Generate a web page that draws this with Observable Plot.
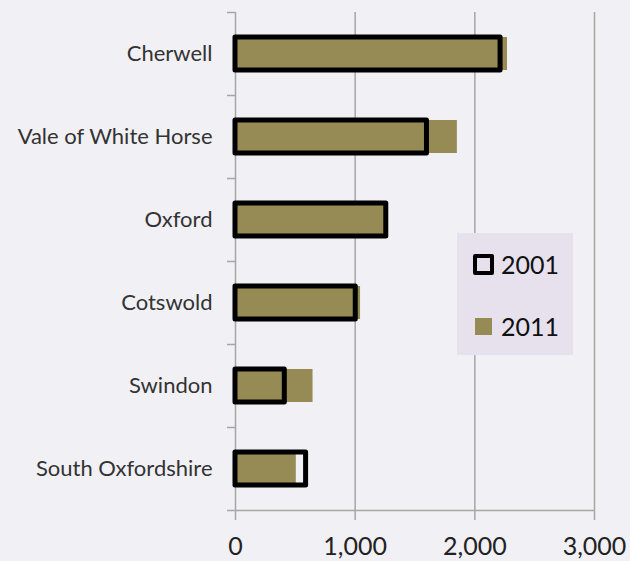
<!DOCTYPE html>
<html>
<head>
<meta charset="utf-8">
<script src="https://cdn.jsdelivr.net/npm/d3@7"></script>
<script src="https://cdn.jsdelivr.net/npm/@observablehq/plot@0.6"></script>
<style>
  html, body { margin: 0; padding: 0; background: #f1f0f5; }
  #wrap { position: relative; width: 630px; height: 561px; }
  #legend {
    position: absolute; left: 457px; top: 233px; width: 116px; height: 122px;
    background: #e6e1ed; font-family: Lato, sans-serif; font-size: 25px; color: #111;
  }
  .item { position: absolute; left: 16px; display: flex; align-items: center; line-height: 30px; }
  .sw { box-sizing: border-box; margin-right: 7px; }
</style>
</head>
<body>
<div id="wrap"></div>
<script>
const categories = ["Cherwell", "Vale of White Horse", "Oxford", "Cotswold", "Swindon", "South Oxfordshire"];
const values2001 = [2215, 1600, 1260, 1005, 412, 590];
const values2011 = [2273, 1854, 1245, 1045, 648, 508];
const xTicks = [0, 1000, 2000, 3000];
const seriesNames = ["2001", "2011"];

const olive = "#968b55";
const grid = "#a6a6a6";
const W = 630, H = 561, mT = 12, mB = 51, mL = 235, mR = 36;
const step = (H - mT - mB) / categories.length;
const barH = 33;
const inset = (step - barH) / 2;

const rows = categories.map((c, i) => ({name: c, v2001: values2001[i], v2011: values2011[i]}));

const chart = Plot.plot({
  width: W, height: H,
  marginTop: mT, marginBottom: mB, marginLeft: mL, marginRight: mR,
  style: {background: "#f1f0f5", fontFamily: "Lato, sans-serif", overflow: "visible"},
  x: {domain: [0, 3000]},
  y: {domain: categories, padding: 0},
  marks: [
    Plot.ruleX(xTicks, {stroke: grid, strokeWidth: 1.5, insetBottom: -10}),
    Plot.ruleY(categories, {x1: 0, x2: 0, insetLeft: -8, dy: -step / 2, stroke: grid, strokeWidth: 1.5}),
    Plot.ruleY([categories[categories.length - 1]], {x1: 0, x2: 3000, insetLeft: -8, dy: step / 2, stroke: grid, strokeWidth: 1.5}),
    Plot.barX(rows, {y: "name", x: "v2011", fill: olive, insetTop: inset, insetBottom: inset}),
    Plot.barX(rows, {y: "name", x: "v2001", fill: "none", stroke: "#000", strokeWidth: 5, strokeLinejoin: "round", insetTop: inset, insetBottom: inset}),
    Plot.axisY({tickSize: 0, tickPadding: 23, fontSize: 22, label: null, fill: "#333"}),
    Plot.axisX({ticks: xTicks, tickSize: 0, tickPadding: 27, fontSize: 25, label: null, fill: "#222", tickFormat: d3.format(",")})
  ]
});

const wrap = document.getElementById("wrap");
wrap.appendChild(chart);

const legend = document.createElement("div");
legend.id = "legend";
legend.innerHTML = `
  <div class="item" style="top:16px"><span class="sw" style="width:21px;height:21px;border:4px solid #000;border-radius:2px;background:transparent"></span><span>${seriesNames[0]}</span></div>
  <div class="item" style="top:78px"><span class="sw" style="width:17px;height:17px;background:${olive};margin-left:2px;margin-right:9px"></span><span>${seriesNames[1]}</span></div>`;
wrap.appendChild(legend);
</script>
</body>
</html>
